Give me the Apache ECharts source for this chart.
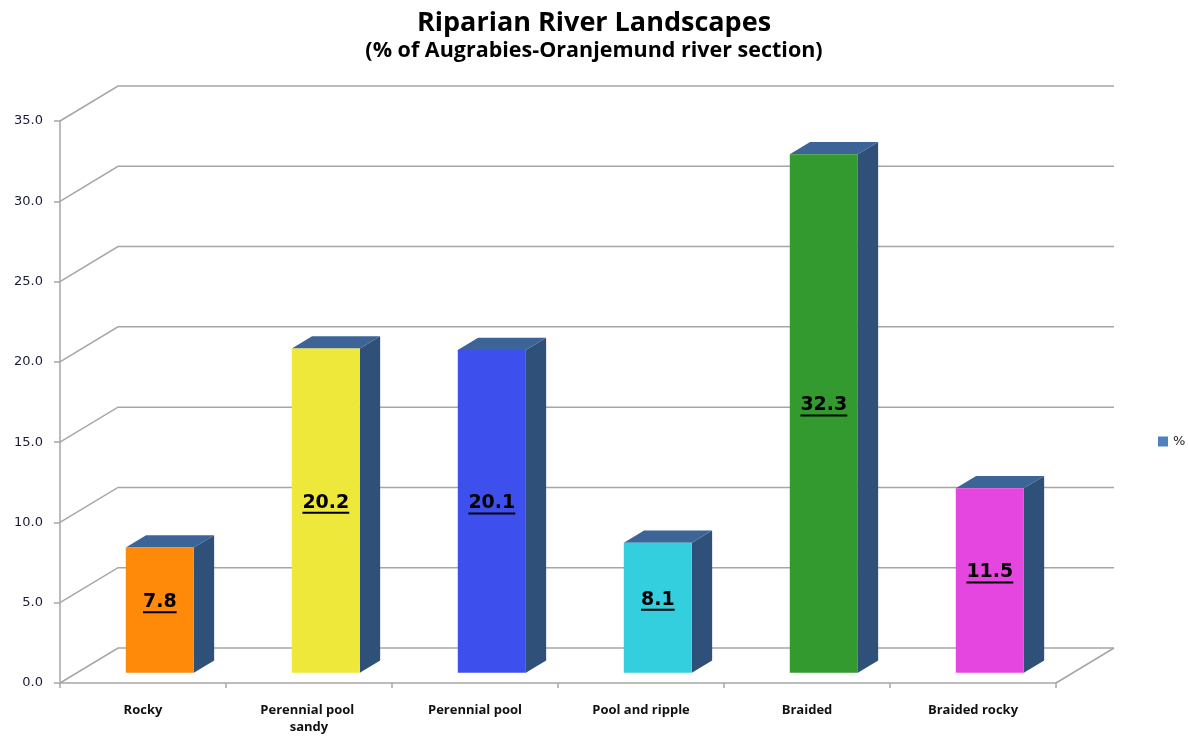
<!DOCTYPE html>
<html>
<head>
<meta charset="utf-8">
<script src="https://cdn.jsdelivr.net/npm/echarts@6/dist/echarts.min.js"></script>
<style>
  html, body { margin: 0; padding: 0; background: #fff; }
  #chart { width: 1188px; height: 738px; }
</style>
</head>
<body>
<div id="chart"></div>
<script>
var categories = ['Rocky', 'Perennial pool sandy', 'Perennial pool', 'Pool and ripple', 'Braided', 'Braided rocky'];
var values = [7.8, 20.2, 20.1, 8.1, 32.3, 11.5];
var barColors = ['#FF8A0A', '#EEE83A', '#3D50EE', '#33CFDF', '#339A2F', '#E646E0'];
var gridValues = [0, 5, 10, 15, 20, 25, 30, 35];

// 3D depth of the floor (px) and where the bars sit inside it
var DX = 58, DY = -35;
var FRONT = 0.29, DEPTH = 0.35;
var SIDE = '#2F5078', TOP = '#3C6496';
var LABEL_FONT = 'bold 19px "DejaVu Sans"';

var measureCtx = document.createElement('canvas').getContext('2d');
function textWidth(s) {
  measureCtx.font = LABEL_FONT;
  return measureCtx.measureText(s).width;
}

var chart = echarts.init(document.getElementById('chart'));

function renderWall(params, api) {
  var cs = params.coordSys;
  var y = api.coord([0, api.value(1)])[1];
  var x0 = cs.x;
  var children = [{
    type: 'polyline',
    shape: { points: [[x0, y], [x0 + DX, y + DY], [cs.x + cs.width + DX, y + DY]] },
    style: { stroke: '#A6A6A6', lineWidth: 1.5, fill: null }
  }];
  if (api.value(1) === 0) {
    var xr = cs.x + cs.width;
    children.push({
      type: 'line',
      shape: { x1: xr, y1: y, x2: xr + DX, y2: y + DY },
      style: { stroke: '#A6A6A6', lineWidth: 1.5 }
    });
  }
  return { type: 'group', children: children };
}

function renderBar(params, api) {
  var i = api.value(0);
  var v = api.value(1);
  var p0 = api.coord([i, 0]);
  var p1 = api.coord([i, v]);
  var band = api.size([1, 0])[0];
  var w = band * 0.41;
  var fx = DX * FRONT, fy = DY * FRONT;
  var dx = DX * DEPTH, dy = DY * DEPTH;
  var xl = p0[0] - w / 2 + fx, xr = xl + w;
  var yt = p1[1] + fy, yb = p0[1] + fy;
  var label = v.toFixed(1);
  var tw = textWidth(label);
  var xc = (xl + xr) / 2, ym = (yt + yb) / 2;
  return {
    type: 'group',
    children: [
      { type: 'polygon', shape: { points: [[xr, yt], [xr + dx, yt + dy], [xr + dx, yb + dy], [xr, yb]] }, style: { fill: SIDE } },
      { type: 'polygon', shape: { points: [[xl, yt], [xl + dx, yt + dy], [xr + dx, yt + dy], [xr, yt]] }, style: { fill: TOP } },
      { type: 'rect', shape: { x: xl, y: yt, width: w, height: yb - yt }, style: { fill: barColors[i] } },
      { type: 'text', x: xc, y: ym - 8, style: { text: label, font: LABEL_FONT, fill: '#000', align: 'center', verticalAlign: 'middle' } },
      { type: 'line', shape: { x1: xc - tw / 2, y1: ym + 2, x2: xc + tw / 2, y2: ym + 2 }, style: { stroke: '#000', lineWidth: 2 } }
    ]
  };
}

var option = {
  animation: false,
  title: {
    text: 'Riparian River Landscapes',
    subtext: '(% of Augrabies-Oranjemund river section)',
    left: 'center',
    top: 5,
    itemGap: 3,
    textStyle: { fontFamily: 'Open Sans', fontWeight: 'bold', fontSize: 27, color: '#000' },
    subtextStyle: { fontFamily: 'Open Sans', fontWeight: 'bold', fontSize: 21.5, color: '#000' }
  },
  legend: {
    left: 1153,
    top: 430,
    itemWidth: 10,
    itemHeight: 10,
    itemGap: 5,
    data: [{ name: '%', icon: 'rect' }],
    textStyle: { fontFamily: 'DejaVu Sans', fontSize: 13, color: '#222' }
  },
  grid: { left: 60, right: 132, top: 121, bottom: 55 },
  xAxis: {
    type: 'category',
    data: categories,
    axisLine: { lineStyle: { color: '#A6A6A6', width: 1.5 } },
    axisTick: { show: true, length: 5, lineStyle: { color: '#A6A6A6', width: 1.5 } },
    axisLabel: {
      interval: 0,
      margin: 19,
      width: 130,
      overflow: 'break',
      lineHeight: 17,
      fontFamily: 'Open Sans',
      fontWeight: 'bold',
      fontSize: 13,
      color: '#111'
    },
    splitLine: { show: false }
  },
  yAxis: {
    type: 'value',
    min: 0,
    max: 35,
    interval: 5,
    axisLine: { show: true, lineStyle: { color: '#A6A6A6', width: 1.5 } },
    axisTick: { show: true, length: 6, lineStyle: { color: '#A6A6A6', width: 1.5 } },
    axisLabel: {
      margin: 17,
      fontFamily: 'DejaVu Sans',
      fontSize: 13,
      color: '#1a1a3a',
      formatter: function (v) { return v.toFixed(1); }
    },
    splitLine: { show: false }
  },
  series: [
    {
      type: 'custom',
      name: 'walls',
      silent: true,
      clip: false,
      z: 1,
      renderItem: renderWall,
      data: gridValues.map(function (v) { return [0, v]; })
    },
    {
      type: 'custom',
      name: '%',
      clip: false,
      z: 2,
      itemStyle: { color: '#4F81BD' },
      renderItem: renderBar,
      data: values.map(function (v, i) { return [i, v]; })
    }
  ]
};

chart.setOption(option);
</script>
</body>
</html>
